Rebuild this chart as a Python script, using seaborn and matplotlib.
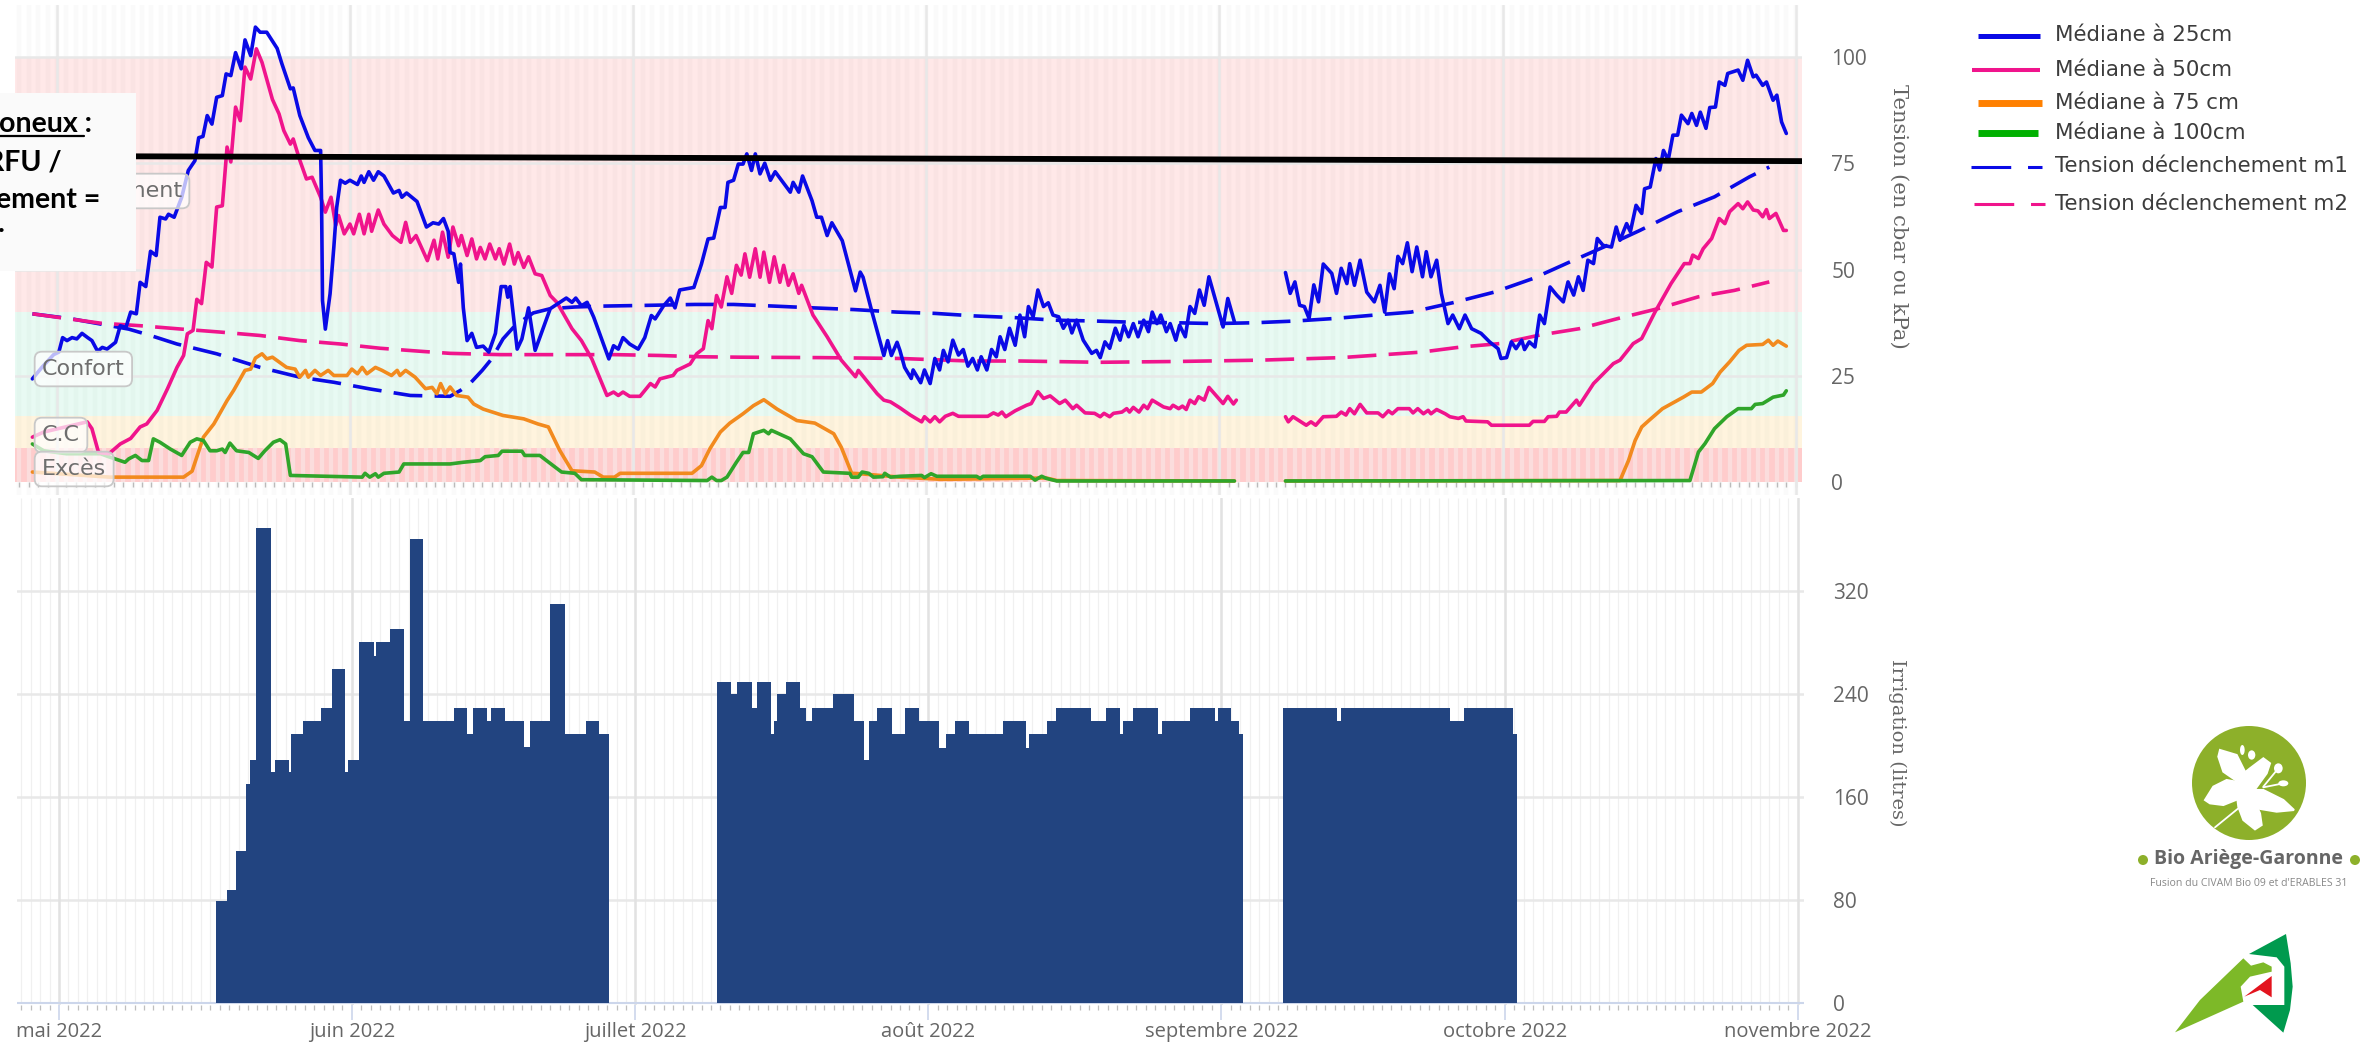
import matplotlib
matplotlib.use('Agg')
import numpy as np
import pandas as pd
import seaborn as sns
import matplotlib.pyplot as plt
from matplotlib.patches import Circle, Ellipse, Polygon, Rectangle

nan = float('nan')

# valeurs : (jour depuis le 1er mai, tension en cbar)
med25 = [(-2.6,24.3),(-1.6,27),(-0.35,30),(0.2,30.6),(0.6,34),(1.06,33.3),(1.6,34),(2.1,33.7),(2.65,35),(3.25,34),(3.7,33.3),(4.3,30.8),(4.8,31.7),(5.3,31.3),(6.2,32.9),(6.7,36.8),(7.3,36.4),(7.8,40),(8.4,39.6),(8.8,47),(9.4,46),(9.9,54.3),(10.5,53.3),(10.9,62.3),(11.5,61.9),(11.8,63),(12.4,62.3),(13.2,67),(13.9,73.3),(14.6,75.6),(15,81),(15.45,81.3),(15.9,86.2),(16.4,84.2),(16.9,90.5),(17.5,90.9),(17.9,96),(18.4,95.6),(18.9,101),(19.5,97.2),(19.9,104),(20.5,100.3),(21,107),(21.5,105.8),(22.2,105.8),(23.3,102),(23.8,98.4),(24.7,92.5),(25,92.7),(25.7,86.2),(26.6,81),(27.3,78),(27.9,78),(28,66),(28.1,42.7),(28.4,36),(28.9,44.3),(29.3,55.3),(29.6,64.6),(30,71),(30.5,70.3),(31,71),(31.8,70),(32.2,72),(32.5,70.5),(33,73),(33.5,71),(34,73),(34.6,72),(35.6,68),(36.2,68.6),(36.5,67),(37,68),(38.1,66),(39.1,60),(39.8,61),(40.4,60.7),(40.9,62),(41.4,59),
         (41.6,54),(42,53.7),(42.5,47),(42.7,51.3),(43,41),(43.4,33.3),(43.9,35),(44.4,31.7),(45.1,32),(45.7,30.6),(46.4,35),(47,46),(47.5,46),(47.7,43.5),(47.95,46),(48.7,31.3),(49.2,33.7),(49.9,41),(50.6,31),(52.2,40.8),(53.9,43.3),(54.5,42.3),(54.9,43.3),(55.5,41.5),(56.1,42.3),(56.8,38.8),(58.4,29),(58.9,32.1),(59.4,31.3),(59.9,34),(60.6,32.5),(61.5,31.3),(62.2,34),(62.9,39.2),(63.3,38.4),(64.2,41.5),(64.9,43.3),(65.4,41),(65.9,45.2),(67.4,45.8),(68.2,51.3),(68.9,57.2),(69.5,57.4),(70.2,64.6),(70.7,64.6),(71,70.5),(71.6,71),(72.1,74.8),(72.6,74.8),(73,77.2),(73.5,73.3),(73.9,77.2),(74.4,72.5),(74.9,75),(75.5,71),(76,73),(76.9,70.3),(77.6,68.2),(77.9,70.5),(78.5,68.2),(78.9,72),(79.9,66.2),(80.4,62.3),(80.9,62.3),(81.5,58),(82,61),(83.1,56.8),(84.5,45),(85,49.4),(85.3,48.2),(86.2,40.4),(87.5,29.8),(87.9,33.3),(88.3,29.8),(88.9,32.9),
         (89.2,31),(89.7,27),(90.4,24.4),(90.6,26.4),(91.4,23.4),(91.8,26.4),(92.4,23.2),(92.9,29.1),(93.4,26.4),(93.8,31),(94.3,28.3),(94.8,33.4),(95.4,29.9),(95.9,31.2),(96.4,27.3),(96.9,29.1),(97.4,26.4),(97.8,29.5),(98.4,26.4),(98.9,31.2),(99.4,29.5),(99.8,34.2),(100.3,31.2),(100.8,36.2),(101.4,32.2),(101.9,39.3),(102.4,34.2),(102.8,41.3),(103.3,38.9),(103.8,45.2),(104.4,41.3),(104.9,42.2),(105.4,39.3),(106,38.9),(106.5,36.2),(107,38.1),(107.4,35.1),(107.9,38.1),(108.6,33.4),(109.5,30.3),(110,31),(110.4,29.3),(110.9,33),(111.4,31.5),(112,36.2),(112.5,33.4),(112.9,36.9),(113.4,34.2),(113.9,37.3),(114.4,34.2),(115,38.1),(115.5,35.4),(115.9,40),(116.4,37.3),(116.8,39.3),(117.4,35.4),(117.8,37.3),(118.4,33.4),(118.8,36.9),(119.4,34.2),(119.9,41.3),(120.4,39.7),(120.9,45.2),(121.4,41.6),(121.9,48.3),(123.4,36.5),(123.9,43.2),(124.6,37.7),(127,nan),
         (130,49.3),(130.5,44.4),(131,47.1),(131.5,41.6),(132,41.3),(132.5,38.5),(133,46.4),(133.5,42.4),(134,51.3),(134.9,49.1),(135.4,44.4),(135.9,50.3),(136.5,46.7),(136.8,51.4),(137.3,46.3),(137.9,52.2),(138.6,44.7),(139.4,42.4),(140,46.3),(140.5,40),(141,49),(141.5,45.5),(141.9,53.1),(142.4,51.4),(142.9,56.3),(143.4,49.5),(143.9,55.3),(144.5,48.3),(144.9,54.2),(145.4,48.3),(146,52.2),(146.5,44.4),(147.2,37.3),(147.7,39.3),(148.4,36.1),(149,39.3),(149.7,36.1),(150.7,35),(151.6,33),(152.5,31.4),(152.8,29.1),(153.4,29.3),(153.9,33),(154.4,31.4),(155,33.4),(155.3,31.2),(155.8,33),(156.4,31.8),(156.9,39.3),(157.4,37.3),(158,45.9),(158.7,44),(159.4,42.4),(159.9,47.1),(160.5,44),(161,48.3),(161.5,45.1),(162,52.2),(162.6,51.4),(163,57.3),(163.6,55.7),(164.5,55.3),(165,60),(165.4,56.9),(166.1,60.8),(166.5,58.9),(167.1,65.1),(167.7,63.2),(168,69),(168.6,69.4),(169.2,76.1),(169.6,73.4),(170,78),(170.5,75.7),(171,81.6),(171.5,81.6),(171.9,86.3),(172.6,84.3),(173,86.7),(173.5,83.9),(173.9,87),(174.5,83.2),(174.9,88.1),(175.5,88.2),(175.9,94.1),(176.5,93.3),(176.8,96.1),(177.9,96.9),(178.4,94.5),(178.9,99.2),(179.5,95.3),(179.8,95.7),(180.5,93.3),(180.9,94.1),(181.6,89.8),(182,91),(182.5,84.7),(183,82)]

med50 = [(-2.6,10.6),(-1.4,11.8),(3.2,14.2),(3.7,12.6),(4.4,7),(5.5,6.7),(6.7,9),(7.8,10.3),(8.8,13),(9.5,13.7),(10.6,16.9),(11.7,22),(12.7,27),(13.4,29.8),(13.8,34.9),(14.4,35.7),(14.8,43),(15.3,42),(15.8,51.7),(16.4,50.6),(16.9,64.7),(17.5,65),(18,78.8),(18.4,75.3),(18.9,88.2),(19.4,85),(19.9,97.6),(20.5,94.8),(21.1,101.9),(21.7,98.7),(22.8,90),(23.5,86.6),(24,82.7),(24.7,79.5),(25,80.7),(25.7,75.7),(26.4,71.3),(27,71.7),(27.9,67),(28.4,63.5),(29,67),(29.5,60.4),(29.8,62.7),(30.4,58.4),(31,60.7),(31.4,58.4),(32,63),(32.5,58.4),(33,63),(33.3,59),(34,64),(34.6,60.7),(35.5,58),(36.4,56.4),(36.9,61.1),(37.4,56.4),(38,58),(39.2,52.1),(39.9,56.9),(40.3,52.5),(40.8,58.8),(41.4,52.9),
         (41.9,60),(42.5,55.6),(42.8,58),(43.4,53.3),(43.9,57.2),(44.4,52.5),(44.8,55.2),(45.3,52.5),(45.8,56),(46.4,52.5),(46.8,54.9),(47.3,51.3),(47.9,56),(48.4,51.3),(48.8,54),(49.4,50.5),(49.9,53),(50.6,49),(51.3,48.6),(52.2,43.9),(52.9,42.3),(53.8,38.8),(54.5,36.1),(55.5,33.3),(56.6,29),(58.2,20.4),(58.9,21.2),(59.4,20.4),(59.9,21.2),(60.6,20.2),(61.7,20.2),(62.8,23.2),(63.3,22.4),(63.8,24.3),(65.2,25.1),(65.6,26.3),(67,27.8),(67.7,30.2),(68.4,31.4),(68.9,38),(69.3,36.1),(69.8,43.9),(70.3,41.2),(70.9,48.3),(71.4,44.4),(71.9,51),(72.4,48.7),(72.8,53.7),(73.3,48.2),(73.9,54.9),(74.4,48.2),(74.8,54.1),(75.4,47),(75.9,53),(76.5,47),(76.9,51),(77.4,46.3),(77.9,49),(78.5,44.4),(78.8,46.3),(80,39.3),(81.5,34.2),(83,28.7),(84.5,24.8),(84.8,26.3),(86.8,20.8),(87.5,19.3),(88.2,18.9),
         (89.2,17.5),(90.3,15.8),(91.5,14.2),(91.8,15.4),(92.4,14.2),(92.9,15.4),(93.4,14.2),(94,15.5),(94.8,16.2),(95.4,15.5),(98.5,15.5),(99.1,16.3),(99.6,15.8),(100,16.5),(100.4,15.4),(101.4,16.8),(102.6,18.1),(103.1,18.5),(103.8,21.3),(104.4,19.7),(105.1,20.3),(106.1,18.5),(106.7,19.3),(107.5,17.3),(107.9,18.1),(108.8,16.3),(109.8,16.2),(110.4,15.4),(110.8,16.2),(111.4,15.4),(111.8,16.2),(112.7,16.5),(113.2,17.3),(113.5,16.5),(113.9,17.6),(114.5,16.5),(115,18.1),(115.4,17.3),(115.9,19.3),(117.1,17.7),(117.8,17.3),(118.1,18.1),(118.7,17.3),(119.1,17.9),(119.5,17.1),(119.9,19.3),(120.4,18.5),(120.8,20.1),(121.4,19.3),(121.9,22.3),(123.4,18.5),(123.9,20.2),(124.5,18.4),(124.8,19.3),(127,nan),
         (130,15.4),(130.3,14.2),(130.8,15.4),(132.2,13.4),(132.7,14.2),(133.2,13.4),(134,15.4),(135.4,15.5),(135.9,16.5),(136.4,15.8),(136.8,17.3),(137.3,16.1),(137.9,18.3),(138.6,16.3),(139.8,16.3),(140.3,15.4),(140.9,16.8),(141.3,16.1),(141.9,17.3),(143.1,17.3),(143.5,16.3),(144,17.3),(144.6,16.1),(145.1,16.9),(145.4,16.1),(146,17.1),(146.9,16.1),(147.4,15.4),(148.3,15),(148.8,15.4),(149.1,14.4),(151.4,14.2),(151.8,13.4),(155.8,13.4),(156.2,14.3),(157.4,14.3),(157.8,15.4),(158.7,15.5),(159,16.5),(159.7,16.5),(160.8,19.3),(161.1,18.1),(162.6,23.2),(164.7,27.9),(165.4,28.7),(166.8,32.6),(167.7,33.8),(169.1,40),(170.8,46.7),(172.2,51.4),(172.8,51.4),(173.1,53.4),(173.7,52.6),(174.2,54.9),(175.1,57.3),(175.9,62),(176.5,60.8),(177,63.6),(177.9,65.5),(178.4,64.3),(178.9,65.9),(179.5,64),(180,63.8),(180.5,62.4),(180.9,64.1),(181.2,62),(181.9,63.2),(182.7,59.2),(183,59.2)]

med75 = [(-2.6,2.4),(5.6,1.2),(13.4,1.2),(14.3,2.6),(15.5,10.6),(16.6,13.7),(18,19.2),(18.7,21.6),(19.9,26.3),(20.5,26.6),(21,29.2),(21.7,30.2),(22.2,29),(22.8,29.4),(24.3,27),(25.2,26.6),(25.7,24.7),(26.3,26.3),(26.6,24.7),(27.3,26.3),(27.9,25.1),(28.7,26.3),(29.3,25.1),(30.7,25.1),(31.2,26.6),(31.8,25.5),(32.3,27),(32.8,25.5),(33.7,27),(34.4,26.3),(35.4,25.1),(36,26.3),(36.3,25.1),(36.9,26.3),(37.9,24.7),(39,22),(39.7,22.3),(40.2,20.8),(40.6,23.2),(41.1,20.8),(41.6,22.4),(42.3,20.4),(43.5,20),(44.1,18.4),(45.1,17.2),(47.2,15.7),(49.4,14.9),(50.9,13.7),(52,13),(53.2,7.5),(54.5,2.7),(56.9,2.4),(57.8,1.2),(59,1.2),(59.6,2.1),(67.2,2.1),(68.2,3.9),(69.1,7.9),(70.2,11.8),(71.2,13.9),(72.6,16.1),(73.7,18),(74.8,19.4),(76.2,17.2),(78.3,14.5),(80.2,13.9),(82.2,11.4),(83,8.2),(84.1,2.1),(85,2),(89.2,1.2),(93.4,0.7),(94.5,0.7),(104.7,1),(105.8,0.4),(124.6,0.3),(127,nan),
         (130,0.3),(165.4,0.4),(166.3,5.1),(167,9.8),(167.7,13),(168.5,14.6),(169.9,17.3),(172.1,20),(173,21.2),(174,21.2),(175.2,23.2),(176,25.9),(177,28.3),(178,31),(178.8,32.2),(180.5,32.4),(181.1,33.4),(181.6,32.2),(182.1,33.2),(183,32)]

med100 = [(-2.6,9),(-1.4,7.4),(1,6.7),(4.6,6.7),(5.6,5.9),(7.2,4.7),(7.6,5.5),(8.3,6.3),(9,5.1),(9.7,5.1),(10.2,10.2),(10.9,9.4),(12,7.8),(13.2,6.3),(14.1,9.4),(14.8,10.2),(15.5,9.8),(16.2,7.4),(16.9,7.4),(17.5,7.8),(17.8,7),(18.3,9.2),(19,7.4),(20.3,7),(21.3,5.6),(22,7.4),(22.9,9.4),(23.6,10),(24.2,9),(24.7,1.6),(32.3,1.2),(32.6,2.1),(33.1,1.2),(33.7,2),(34,1.2),(34.6,2.1),(36.2,2.4),(36.7,4.3),(41.6,4.3),(43,4.7),(44.8,5.1),(45.3,6),(46.7,6.3),(47.1,7.3),(49.2,7.3),(49.5,6.3),(51.1,6.3),(51.8,5.1),(53.4,2.4),(54.8,2.1),(55.5,0.6),(68.8,0.4),(69.3,1.2),(69.8,0.4),(70.3,0.4),(70.9,1.2),(71.9,4.7),(72.6,7),(73.2,7),(73.7,11.4),(74.8,12.2),(75.3,11.4),(75.6,12.2),(77.6,10.2),(79,6.7),(79.9,6),(81.1,2.4),(83.9,2.1),(84.1,1.2),(84.8,1.2),(85.2,2.4),(85.9,2.1),(86.4,1.2),(87.4,1.3),(87.6,2.1),(88.2,1.2),(89.2,1.4),(91.5,1.6),(91.8,1.1),(92.5,2),(93.1,1.4),(97.3,1.4),(97.7,0.9),(98,1.4),(103,1.4),(103.5,0.5),(104.2,1.4),(104.7,0.9),(105.8,0.3),(124.6,0.3),(127,nan),
          (130,0.3),(172.8,0.4),(173.7,7.1),(174.4,9.1),(175.4,12.6),(176.7,15.4),(177.9,17.3),(179.3,17.3),(179.7,18.3),(180.5,18.5),(181.6,20),(182.7,20.5),(183,21.5)]

seuil_m1 = [(-2.6,39.6),(1.6,38.4),(4.6,37.2),(7.6,36),(9.9,34.5),(12.7,32.5),(16.9,30.2),(21.5,27),(25.7,24.7),(29.3,23.5),(33.2,21.9),(37.4,20.4),(41.6,20.2),(42.7,21.6),(43.7,23.2),(45,26.3),(46,29),(47.2,33.7),(48.5,36.9),(50.4,39.8),(52.2,40.8),(54.8,41.2),(57.5,41.4),(62.8,41.6),(67.5,41.8),(71.6,41.8),(76,41.4),(80,41),(84.3,40.6),(88.9,40),(92.9,39.7),(97.1,39.1),(101.4,38.7),(105.6,38.1),(109.8,37.9),(114.1,37.6),(118.3,37.5),(122.5,37.3),(126.8,37.5),(131,37.9),(135.2,38.5),(139.4,39.3),(143.3,40),(147.7,42.2),(152.1,44.7),(156.2,47.9),(160.1,51.8),(164.5,56.1),(167.5,59.2),(171.5,63.6),(175.4,67.1),(179.1,71.8),(181.2,74.1)]

seuil_m2 = [(-2.6,39.6),(4.6,37.4),(8.8,36.8),(13.2,36),(17.3,35.3),(21.5,34.5),(25.7,33.3),(30,32.5),(34.2,31.5),(38.4,30.8),(41.6,30.3),(46.9,30),(51.1,30),(59,30),(63.8,29.8),(68,29.5),(72.3,29.4),(80.8,29.3),(89.2,29.1),(96.6,28.5),(101.9,28.5),(110.4,28.2),(118.8,28.4),(127.3,28.7),(135.9,29.3),(144.4,30.6),(148.6,31.8),(152.7,32.6),(156.9,34.6),(161.1,36.1),(165.2,38.5),(169.4,40.8),(173.7,43.6),(177.5,45.1),(181.2,47.1)]

seuil_noir = [(-4.4,76.7),(184.6,75.5)]

# irrigation : limites des barres (jours) et litres
irr_bords1 = [16.6,17.8,18.7,19.8,20.2,20.9,22.4,22.9,24.3,24.6,25.8,27.7,28.9,30.3,30.6,31.8,33.3,33.6,35,36.5,37.1,38.5,41.8,43.2,43.8,45.3,45.7,47.2,49.2,49.8,52,53.5,55.8,57.2,58.2]
irr_litres1 = [79,88,118,170,189,369,179,189,179,209,219,229,259,179,189,280,269,280,290,219,360,219,229,209,229,219,229,219,199,219,310,209,219,209]
irr_bords2 = [69.6,71.1,71.8,73.3,73.9,75.4,75.7,76,76.9,78.4,79.1,79.7,81.9,84.1,85.2,85.7,86.6,88.1,89.5,91,93.1,93.9,94.8,96.3,99.9,102.3,102.6,104.6,105.5,109.2,110.8,112.3,112.6,113.7,116.3,116.7,119.7,122.3,122.6,124,124.9,125.3]
irr_litres2 = [249,240,249,229,249,209,219,240,249,229,219,229,240,219,189,219,229,209,229,219,198,209,219,209,219,198,209,219,229,219,229,209,219,229,209,219,229,219,229,219,209]
irr_bords3 = [129.5,135.2,135.7,147.2,148.7,153.9,154.3]
irr_litres3 = [229,219,229,219,229,209]

mois_jours = [0, 31, 61, 92, 123, 153, 184]
mois_labels = ['mai 2022', 'juin 2022', 'juillet 2022', 'août 2022', 'septembre 2022', 'octobre 2022', 'novembre 2022']
tension_ticks = [0, 25, 50, 75, 100]
irrigation_ticks = [0, 80, 160, 240, 320]
legende_labels = ['Médiane à 25cm', 'Médiane à 50cm', 'Médiane à 75 cm', 'Médiane à 100cm', 'Tension déclenchement m1', 'Tension déclenchement m2']

BLEU, ROSE, ORANGE, VERT = '#0a0ae6', '#f0148c', '#f28a1e', '#2fa52a'
GRIS = '#666666'
W, H = 2371, 1043

sns.set_theme(style='white')
plt.rcParams['font.family'] = ['Open Sans', 'DejaVu Sans']
fig = plt.figure(figsize=(W / 100, H / 100), dpi=100)

def boite(x0, y0, x1, y1):
    return [x0 / W, 1 - y1 / H, (x1 - x0) / W, (y1 - y0) / H]

ax1 = fig.add_axes(boite(15, 5, 1802, 495))
ax2 = fig.add_axes(boite(17, 498, 1804, 1005))
jours = np.arange(-4, 185)

def courbe(ax, serie, **kw):
    # un morceau par période de mesure, les trous sont marqués par nan
    df = pd.DataFrame(serie, columns=['jour', 'val'])
    groupe = df['val'].isna().cumsum()
    for _, part in df.dropna().groupby(groupe):
        sns.lineplot(data=part, x='jour', y='val', ax=ax, sort=False, estimator=None, legend=False, **kw)

# panneau tension
ax1.vlines(jours, -3, 113, color='#fafafa', lw=3.2, zorder=0.5)
ax1.axhspan(40, 100, color=(1, 0, 0), alpha=0.09, lw=0, zorder=1)
ax1.axhspan(15.5, 40, color=(0, 0.82, 0.5), alpha=0.09, lw=0, zorder=1)
ax1.axhspan(8, 15.5, color=(1, 0.75, 0.24), alpha=0.17, lw=0, zorder=1)
ax1.axhspan(0, 8, color=(1, 0, 0), alpha=0.2, lw=0, zorder=1)
ax1.vlines(jours, 0, 8, color='white', alpha=0.4, lw=3.2, zorder=1.2)
ax1.vlines(jours, -1.2, 0, color='#bbbbbb', lw=1, zorder=1.2)
for t in tension_ticks[1:]:
    ax1.axhline(t, color='#e8e8e8', lw=1.8, zorder=1.3)
for m in mois_jours:
    ax1.axvline(m, color='#e8e8e8', lw=1.8, zorder=1.3)

courbe(ax1, seuil_noir, color='black', linewidth=4.2, zorder=5)
courbe(ax1, seuil_m1, color=BLEU, linewidth=2.6, linestyle=(0, (8, 3.4)), zorder=3)
courbe(ax1, seuil_m2, color=ROSE, linewidth=2.6, linestyle=(0, (8, 3.4)), zorder=3)
courbe(ax1, med75, color=ORANGE, linewidth=2.6, zorder=3)
courbe(ax1, med100, color=VERT, linewidth=2.6, zorder=3)
courbe(ax1, med50, color=ROSE, linewidth=2.6, zorder=3)
courbe(ax1, med25, color=BLEU, linewidth=2.6, zorder=4)
ax1.set_yticks(tension_ticks)
ax1.set_ylim(-3, 112.2)

# panneau irrigation
ax2.vlines(jours, 0, 392, color='#f0f0f0', lw=0.9, zorder=0.5)
for t in irrigation_ticks[1:]:
    ax2.axhline(t, color='#e8e8e8', lw=1.8, zorder=1)
for m in mois_jours:
    ax2.axvline(m, color='#e2e2e2', lw=1.8, zorder=1)
for bords, litres in [(irr_bords1, irr_litres1), (irr_bords2, irr_litres2), (irr_bords3, irr_litres3)]:
    sns.histplot(x=bords[:-1], weights=litres, bins=bords, ax=ax2, color='#224480', alpha=1, linewidth=0, zorder=3)
ax2.axhline(0, color='#ccd6eb', lw=1.5, zorder=2)
ax2.set_yticks(irrigation_ticks)
ax2.set_ylim(-1.5, 392)
ax2.set_xticks(jours, minor=True)
ax2.tick_params(axis='x', which='minor', length=3.5, width=0.9, color='#bfbfbf', direction='out', bottom=True)

for ax in (ax1, ax2):
    ax.set_xlim(-4.44, 184.66)
    ax.set_xlabel('')
    ax.set_ylabel('')
    ax.patch.set_alpha(0)
    sns.despine(ax=ax, left=True, bottom=True)
    ax.yaxis.tick_right()
    ax.tick_params(axis='y', length=0, pad=21, labelsize=15, labelcolor=GRIS)
ax1.set_xticks([])
ax2.set_xticks(mois_jours)
ax2.set_xticklabels(mois_labels)
ax2.tick_params(axis='x', which='major', length=11, width=1.2, color='#ccd6eb', direction='out', bottom=True, pad=1, labelsize=14.5, labelcolor=GRIS)

# calque en pixels pour les annotations, la légende et les logos
ov = fig.add_axes([0, 0, 1, 1], zorder=10)
ov.set_xlim(0, W)
ov.set_ylim(H, 0)
ov.axis('off')
ov.patch.set_alpha(0)

ov.text(1899, 216, 'Tension (en cbar ou kPa)', rotation=270, ha='center', va='center', family='DejaVu Serif', fontsize=15.2, color=GRIS)
ov.text(1897, 743, 'Irrigation (litres)', rotation=270, ha='center', va='center', family='DejaVu Serif', fontsize=14, color=GRIS)

def etiquette(x, y, texte, ha='left'):
    ov.text(x, y, texte, ha=ha, va='center', family='DejaVu Sans', fontsize=16, color='#6e6e6e', zorder=3,
            bbox=dict(boxstyle='round,pad=0.33', fc=(1, 1, 1, 0.72), ec='#c8c8c8', lw=1.3))

etiquette(182, 191, 'ment', ha='right')
etiquette(42, 369, 'Confort')
etiquette(42, 435, 'C.C')
etiquette(42, 469, 'Excès')

ov.add_patch(Rectangle((0, 93), 136, 178, fc='#fafafa', ec='none', zorder=4))
note = dict(ha='right', va='baseline', family='Lato', weight='bold', fontsize=20.5, color='black', zorder=5)
ov.text(92, 132, 'oneux :', **note)
ov.text(62, 170, 'RFU /', **note)
ov.text(100, 208, 'ement =', **note)
ov.text(5, 232, '.', **note)
ov.plot([0, 84], [136, 136], color='black', lw=1.6, zorder=5)

# légende
lignes = [((1978, 2040), 36, BLEU, 3.6, '-'), ((1972, 2040), 70, ROSE, 2.9, '-'), ((1978, 2042), 103, '#ff8000', 5, '-'),
          ((1978, 2038), 133, '#00b000', 5, '-'), ((1971, 2042), 167, BLEU, 2.2, (0, (13, 5.5))), ((1974, 2045), 204, ROSE, 2.2, (0, (13, 5.5)))]
rangs = [35, 70, 103, 133, 166, 204]
for (xs, y, coul, ep, st), yt, lab in zip(lignes, rangs, legende_labels):
    ov.plot(xs, [y, y], color=coul, lw=ep, ls=st, solid_capstyle='butt')
    ov.text(2055, yt, lab, ha='left', va='center', family='DejaVu Sans', fontsize=15.4, color='#3c3c3c')

# logo Bio Ariège-Garonne
def zpx(pts):
    return [(2050 + x / 3, 700 + y / 3) for x, y in pts]

VERT_BIO = '#8db02a'
ov.add_patch(Circle((2249, 783), 57, fc=VERT_BIO, ec='none'))
petales = [[(510,150),(560,165),(585,215),(585,260),(520,215),(505,170)],
           [(465,300),(490,260),(530,240),(585,250),(570,295),(520,315),(480,310)],
           [(580,270),(640,270),(700,300),(732,330),(680,335),(620,325),(585,300)],
           [(560,280),(600,275),(630,340),(635,375),(615,388),(580,360),(565,320)],
           [(575,225),(600,205),(640,175),(660,190),(650,220),(610,275),(570,265)]]
for p in petales:
    ov.add_patch(Polygon(zpx(p), closed=True, fc='white', ec='white', lw=1.5))
for (x, y), w, h in [((577,150),14,30),((605,165),22,28),((685,205),26,30),((700,250),30,18)]:
    ov.add_patch(Ellipse(zpx([(x, y)])[0], w / 3, h / 3, fc='white', ec='none'))
for a, b in [((495,382),(565,325)), ((640,260),(685,205)), ((640,262),(700,250))]:
    t = zpx([a, b])
    ov.plot([t[0][0], t[1][0]], [t[0][1], t[1][1]], color='white', lw=1.3)
ov.text(2249, 859, 'Bio Ariège-Garonne', ha='center', va='center', family='Open Sans', weight='bold', fontsize=14, color='#666666')
ov.add_patch(Circle((2143, 860), 5, fc=VERT_BIO, ec='none'))
ov.add_patch(Circle((2355, 860), 5, fc=VERT_BIO, ec='none'))
ov.text(2249, 883, "Fusion du CIVAM Bio 09 et d'ERABLES 31", ha='center', va='center', family='Open Sans', fontsize=7.6, color='#888888')

# second logo
voile_claire = [(375,997),(450,900),(580,775),(603,797),(640,787),(665,800),(665,815),(600,830),(572,860),(580,905)]
voile_foncee = [(597,762),(708,702),(722,790),(728,860),(720,930),(700,998),(608,915),(703,915),(703,800),(680,772)]
fleche = [(583,890),(665,828),(665,892),(630,870)]
ov.add_patch(Polygon(zpx(voile_claire), closed=True, fc='#7db928', ec='none'))
ov.add_patch(Polygon(zpx(voile_foncee), closed=True, fc='#009a4e', ec='none'))
ov.add_patch(Polygon(zpx(fleche), closed=True, fc='#e3141e', ec='none'))

fig.savefig('out.png', dpi=100)
